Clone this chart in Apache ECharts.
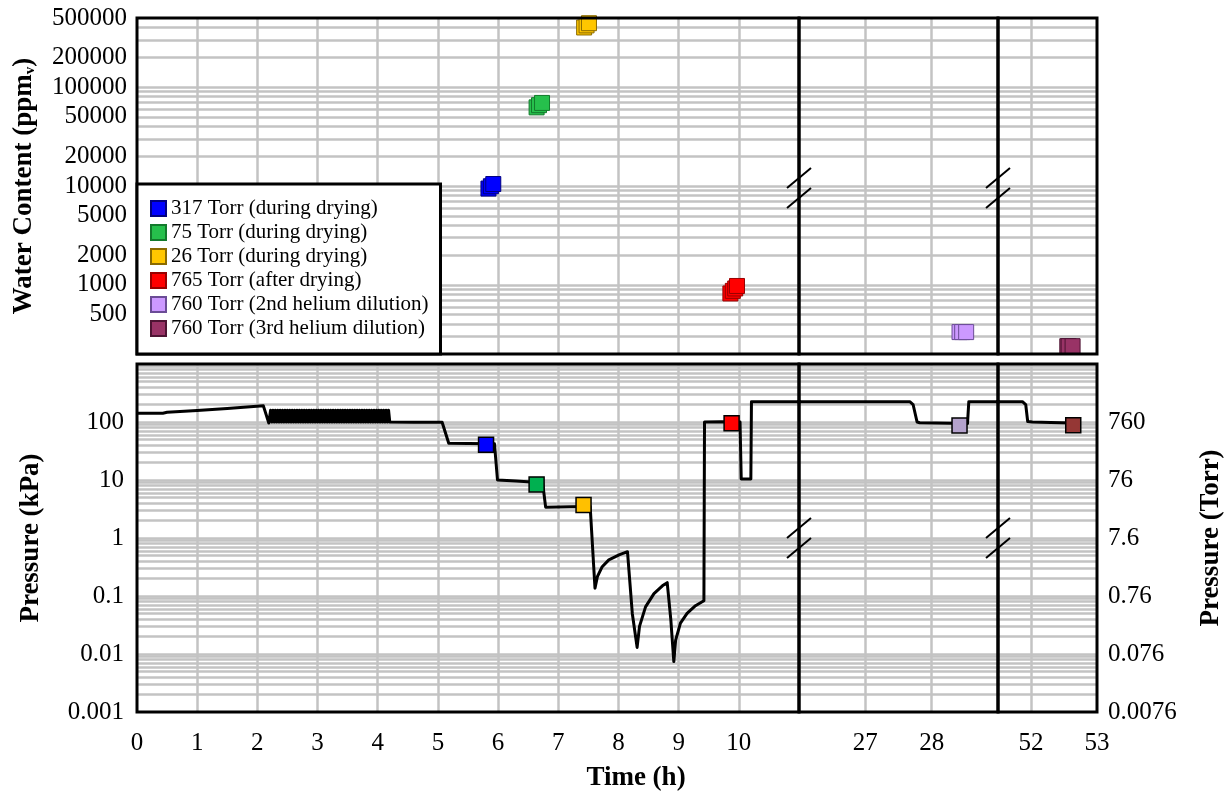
<!DOCTYPE html>
<html>
<head>
<meta charset="utf-8">
<script src="https://cdn.jsdelivr.net/npm/echarts@6/dist/echarts.min.js"></script>
<style>
  html, body { margin: 0; padding: 0; background: #fff; }
  #chart { width: 1229px; height: 792px; }
</style>
</head>
<body>
<div id="chart"></div>
<script>
// tick labels
const seg1Ticks = [0, 1, 2, 3, 4, 5, 6, 7, 8, 9, 10]
const seg2Ticks = [27, 28]
const seg3Ticks = [52, 53]
const waterTicks = [500, 1000, 2000, 5000, 10000, 20000, 50000, 100000, 200000, 500000]
const kpaTicks = [0.001, 0.01, 0.1, 1, 10, 100]
const torrTicks = [0.0076, 0.076, 0.76, 7.6, 76, 760]

// pressure trace [time (h), kPa]
const pressure = [
	[0, 142], [0.43, 142], [0.5, 147], [1.0, 158], [1.5, 171], [2.1, 190], [2.19, 96],
	// fill / pump cycles
	[2.22, 160], [2.24, 100], [2.26, 160], [2.28, 100], [2.30, 160], [2.32, 100], [2.34, 160], [2.36, 100], [2.38, 160], [2.40, 100],
	[2.42, 160], [2.44, 100], [2.46, 160], [2.48, 100], [2.50, 160], [2.52, 100], [2.54, 160], [2.56, 100], [2.58, 160], [2.60, 100],
	[2.62, 160], [2.64, 100], [2.66, 160], [2.68, 100], [2.70, 160], [2.72, 100], [2.74, 160], [2.76, 100], [2.78, 160], [2.80, 100],
	[2.82, 160], [2.84, 100], [2.86, 160], [2.88, 100], [2.90, 160], [2.92, 100], [2.94, 160], [2.96, 100], [2.98, 160], [3.00, 100],
	[3.02, 160], [3.04, 100], [3.06, 160], [3.08, 100], [3.10, 160], [3.12, 100], [3.14, 160], [3.16, 100], [3.18, 160], [3.20, 100],
	[3.22, 160], [3.24, 100], [3.26, 160], [3.28, 100], [3.30, 160], [3.32, 100], [3.34, 160], [3.36, 100], [3.38, 160], [3.40, 100],
	[3.42, 160], [3.44, 100], [3.46, 160], [3.48, 100], [3.50, 160], [3.52, 100], [3.54, 160], [3.56, 100], [3.58, 160], [3.60, 100],
	[3.62, 160], [3.64, 100], [3.66, 160], [3.68, 100], [3.70, 160], [3.72, 100], [3.74, 160], [3.76, 100], [3.78, 160], [3.80, 100],
	[3.82, 160], [3.84, 100], [3.86, 160], [3.88, 100], [3.90, 160], [3.92, 100], [3.94, 160], [3.96, 100], [3.98, 160], [4.00, 100],
	[4.02, 160], [4.04, 100], [4.06, 160], [4.08, 100], [4.10, 160], [4.12, 100], [4.14, 160], [4.16, 100], [4.18, 160], [4.20, 100],
	[4.6, 99], [5.07, 99], [5.18, 43], [5.5, 42.5], [5.94, 42], [5.99, 10], [6.3, 9.6], [6.74, 9.0], [6.79, 3.4],
	[7.2, 3.45], [7.53, 3.5], [7.61, 0.136], [7.65, 0.215], [7.73, 0.32], [7.84, 0.42], [8.01, 0.51], [8.15, 0.58],
	[8.23, 0.05], [8.31, 0.013], [8.35, 0.03], [8.45, 0.065], [8.59, 0.11], [8.73, 0.15], [8.81, 0.17],
	[8.87, 0.039], [8.92, 0.0074], [8.95, 0.0174], [9.03, 0.034], [9.14, 0.05], [9.28, 0.068], [9.42, 0.083],
	[9.43, 100], [9.7, 101], [10.02, 100], [10.04, 10.4], [10.2, 10.4], [10.21, 224],
	[27.67, 224], [27.72, 200], [27.78, 100], [27.82, 97], [28.3, 95], [28.54, 94], [28.56, 224],
	[51.87, 224], [51.92, 200], [51.95, 102], [52.02, 100], [52.3, 98], [52.63, 96]
]

// water content samples [time (h), ppmv]
const water317 = [[5.84, 9420], [5.88, 9940], [5.92, 10470]]
const water75 = [[6.64, 62400], [6.68, 65700], [6.73, 69200]]
const water26 = [[7.43, 401000], [7.47, 421000], [7.51, 443000]]
const water765 = [[9.86, 819], [9.9, 870], [9.94, 920], [9.97, 975]]
const water760b = [[28.42, 333], [28.46, 333], [28.52, 333]]
const water760c = [[52.55, 240], [52.57, 240], [52.63, 240]]

// pressure at the sampling moments [time (h), kPa]
const press317 = [[5.8, 40.5]]
const press75 = [[6.64, 8.4]]
const press26 = [[7.42, 3.7]]
const press765 = [[9.88, 95]]
const press760b = [[28.42, 87]]
const press760c = [[52.64, 88]]

const FONT = '"Liberation Serif", "Times New Roman", serif'
const GREY = '#c3c3c3'

// layout (px)
const PLOT_L = 137, CUT1 = 799, CUT2 = 998, PLOT_R = 1097
const TOP_Y = 18, TOP_H = 336, BOT_Y = 364, BOT_H = 348
const segEdges = [[PLOT_L, CUT1], [CUT1, CUT2], [CUT2, PLOT_R]]
const segRanges = [[0, 11], [26, 29], [51.5, 53]]
const segTicks = [seg1Ticks, seg2Ticks, seg3Ticks]

const samples = [
	{ name: '317 Torr (during drying)', color: '#0000ff', edge: '#000080', pColor: '#0000ff', water: water317, p: press317, seg: 0 },
	{ name: '75 Torr (during drying)', color: '#26c04c', edge: '#137a2c', pColor: '#00b050', water: water75, p: press75, seg: 0 },
	{ name: '26 Torr (during drying)', color: '#ffc600', edge: '#8a6a00', pColor: '#ffc000', water: water26, p: press26, seg: 0 },
	{ name: '765 Torr (after drying)', color: '#ff0000', edge: '#990000', pColor: '#ff0000', water: water765, p: press765, seg: 0 },
	{ name: '760 Torr (2nd helium dilution)', color: '#cc99ff', edge: '#6b4c96', pColor: '#b4a2cc', water: water760b, p: press760b, seg: 1 },
	{ name: '760 Torr (3rd helium dilution)', color: '#993366', edge: '#4d1433', pColor: '#953735', water: water760c, p: press760c, seg: 2 }
]

// gridlines at 1..9 x 10^n strictly inside the axis range
const logGrid = (lo, hi) => {
	const out = []
	for (let e = -4; e <= 6; e++) {
		for (let m = 1; m <= 9; m++) {
			const v = +(m * Math.pow(10, e)).toPrecision(6)
			if (v > lo * 1.0001 && v < hi * 0.9999) out.push(v)
		}
	}
	return out
}
const fmt = (v) => String(+Number(v).toPrecision(6))
const labelStyle = { fontFamily: FONT, fontSize: 25, color: '#000' }
const nameStyle = { fontFamily: FONT, fontSize: 27, fontWeight: 'bold', color: '#000' }

const grids = []
const xAxes = []
const yAxes = []
for (let panel = 0; panel < 2; panel++) {
	for (let seg = 0; seg < 3; seg++) {
		const idx = panel * 3 + seg
		const [x0, x1] = segEdges[seg]
		grids.push({
			left: x0, width: x1 - x0,
			top: panel ? BOT_Y : TOP_Y, height: panel ? BOT_H : TOP_H,
			show: true, borderColor: '#000', borderWidth: 3, backgroundColor: 'transparent', z: 3
		})
		const [min, max] = segRanges[seg]
		xAxes.push({
			type: 'value', gridIndex: idx, min, max, z: 1,
			axisLine: { show: false },
			axisTick: { show: false, customValues: segTicks[seg].filter((v) => v > min && v < max) },
			splitLine: { show: true, lineStyle: { color: GREY, width: 2.5 } },
			axisLabel: { show: panel === 1, customValues: segTicks[seg], margin: 19, formatter: fmt, ...labelStyle }
		})
		const ymin = panel ? 0.001 : 200
		const ymax = panel ? 1000 : 500000
		const y = {
			type: 'log', logBase: 10, gridIndex: idx, min: ymin, max: ymax, z: 1,
			axisLine: { show: false },
			axisTick: { show: false, customValues: logGrid(ymin, ymax) },
			splitLine: { show: true, lineStyle: { color: GREY, width: 2.5 } },
			axisLabel: { show: seg === 0, customValues: panel ? kpaTicks : waterTicks, margin: panel ? 13 : 10, formatter: fmt, ...labelStyle }
		}
		if (seg === 0) {
			y.nameLocation = 'middle'
			y.nameRotate = 90
			if (panel === 0) {
				y.name = '{a|Water Content (ppm}{s|v}{a|)}'
				y.nameGap = 99
				y.nameTextStyle = { rich: { a: nameStyle, s: { ...nameStyle, fontSize: 15, verticalAlign: 'bottom' } } }
			} else {
				y.name = 'Pressure (kPa)'
				y.nameGap = 92
				y.nameTextStyle = nameStyle
			}
		}
		yAxes.push(y)
	}
}
// right-hand Torr scale on the last lower segment
yAxes.push({
	type: 'log', logBase: 10, gridIndex: 5, position: 'right', min: 0.0076, max: 7600,
	axisLine: { show: false }, axisTick: { show: false }, splitLine: { show: false },
	axisLabel: { customValues: torrTicks, margin: 11, formatter: fmt, ...labelStyle },
	name: 'Pressure (Torr)', nameLocation: 'middle', nameRotate: 90, nameGap: 101, nameTextStyle: nameStyle
})

const series = []
for (let seg = 0; seg < 3; seg++) {
	series.push({
		type: 'line', name: 'pressure', xAxisIndex: 3 + seg, yAxisIndex: 3 + seg,
		data: pressure, showSymbol: false, symbol: 'none', clip: true, z: 2,
		lineStyle: { color: '#000', width: 3, join: 'round' }
	})
}
samples.forEach((s) => {
	series.push({
		type: 'scatter', name: s.name, xAxisIndex: s.seg, yAxisIndex: s.seg, data: s.water,
		symbol: 'rect', symbolSize: 15, z: 2,
		itemStyle: { color: s.color, borderColor: s.edge, borderWidth: 1, opacity: 1 }
	})
	series.push({
		type: 'scatter', name: s.name + ' (p)', xAxisIndex: 3 + s.seg, yAxisIndex: 3 + s.seg, data: s.p,
		symbol: 'rect', symbolSize: 15, z: 2,
		itemStyle: { color: s.pColor, borderColor: '#000', borderWidth: 1.5, opacity: 1 }
	})
})

// "//" break marks across the segment joins
const graphics = []
const cuts = [CUT1, CUT2]
const midYs = [TOP_Y + TOP_H / 2 + 2, BOT_Y + BOT_H / 2]
cuts.forEach((cx) => {
	midYs.forEach((cy) => {
		[-10, 10].forEach((dy) => {
			graphics.push({
				type: 'line', z: 20, silent: true,
				shape: { x1: cx - 12, y1: cy + dy + 10, x2: cx + 12, y2: cy + dy - 10 },
				style: { stroke: '#000', lineWidth: 2 }
			})
		})
	})
})
graphics.push({
	type: 'text', x: 636, y: 778, z: 20, silent: true,
	style: { text: 'Time (h)', font: 'bold 27px ' + FONT, fill: '#000', align: 'center', verticalAlign: 'middle' }
})

const myChart = echarts.init(document.getElementById('chart'), null, { renderer: 'canvas' })
myChart.setOption({
	animation: false,
	backgroundColor: '#fff',
	grid: grids,
	xAxis: xAxes,
	yAxis: yAxes,
	legend: {
		data: samples.map((s) => s.name),
		orient: 'vertical', left: PLOT_L, top: 184, z: 10,
		itemWidth: 15, itemHeight: 15, itemGap: 3,
		padding: [14, 12, 15, 13],
		backgroundColor: '#fff', borderColor: '#000', borderWidth: 3,
		selectedMode: false,
		textStyle: { fontFamily: FONT, fontSize: 21, color: '#000', lineHeight: 21 }
	},
	graphic: graphics,
	series
})
</script>
</body>
</html>
